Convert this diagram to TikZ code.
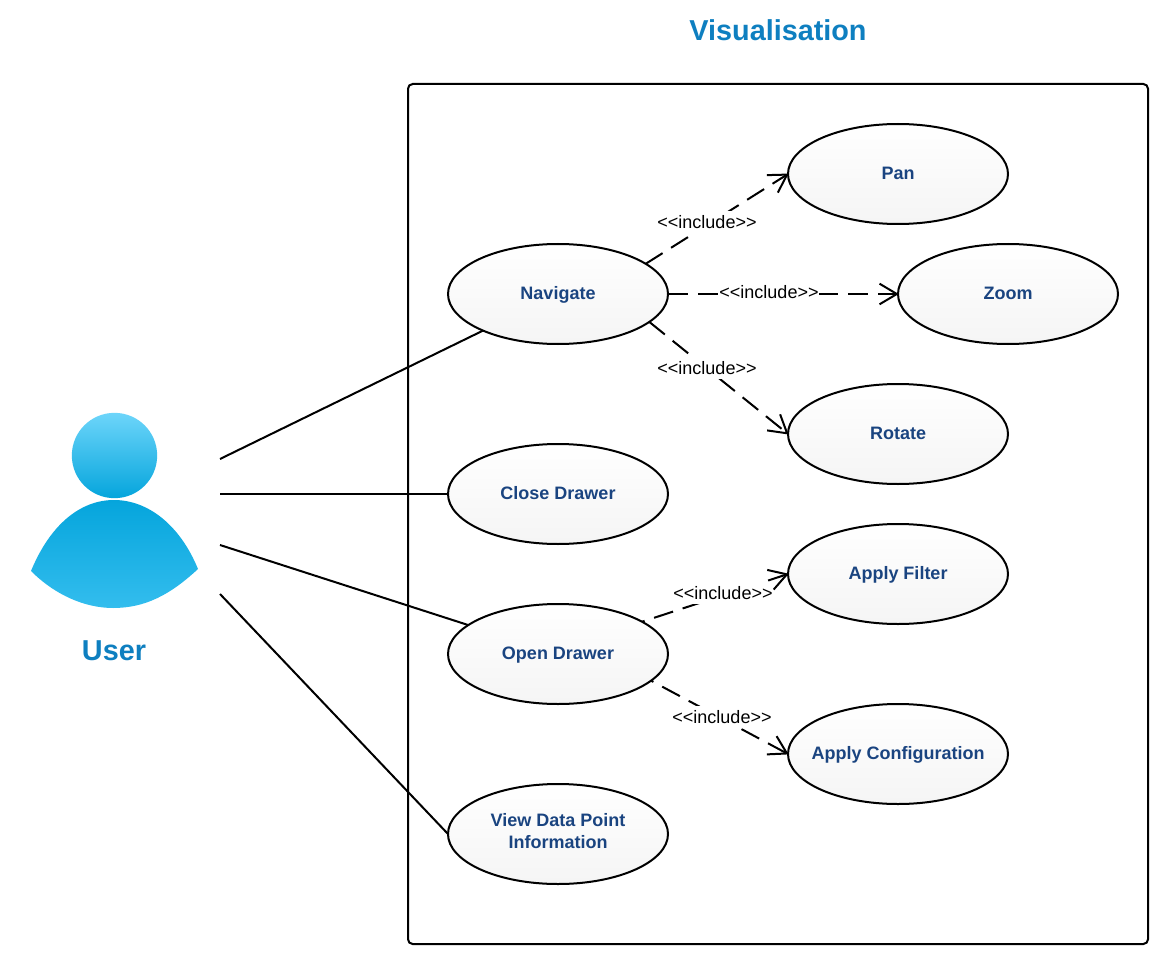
\documentclass[tikz,border=0pt]{standalone}
\usepackage{fontspec}
\setmainfont{Liberation Sans}
\usetikzlibrary{shapes.geometric,arrows.meta}
\definecolor{usecasetext}{HTML}{1A4480}
\definecolor{titleblue}{HTML}{0E7FC0}
\definecolor{actorA}{HTML}{6DD5FA}
\definecolor{actorB}{HTML}{05A5DC}
\definecolor{actorC}{HTML}{33BDEE}
\tikzset{
  usecase/.style={ellipse,draw=black,line width=1.5pt,minimum width=165pt,minimum height=75pt,inner sep=0pt,outer sep=0pt,
    top color=white,bottom color=black!4,text=usecasetext,font=\bfseries\fontsize{13.5}{16.5}\selectfont,align=center,
    text height=11.5pt,text depth=2.8pt},
  assoc/.style={draw=black,line width=1.5pt},
  incl/.style={draw=black,line width=1.5pt,dash pattern=on 15pt off 7.5pt,shorten >=-0.6pt,
    -{Straight Barb[length=13pt,width=15.5pt,line width=1.5pt]}},
  inclshift/.style={incl,dash phase=13pt},
  incllabel/.style={fill=white,inner sep=0pt,text=black,font=\fontsize{13.5}{15}\selectfont,text height=13pt,text depth=3pt},
  heading/.style={text=titleblue,font=\bfseries\fontsize{21.6}{25}\selectfont,inner sep=0pt},
}
\begin{document}
\begin{tikzpicture}[x=0.75pt,y=-0.75pt]
\useasboundingbox (0,0) rectangle (1166,966);
\node[heading] (title) at (778,30) {Visualisation};
\node[draw=black,line width=1.5pt,rounded corners=3.5pt,minimum width=555pt,minimum height=645pt,inner sep=0pt,outer sep=0pt] (system) at (778,514) {};
% actor
\node[circle,minimum size=64pt,inner sep=0pt,top color=actorA,bottom color=actorB] (head) at (114.5,455.5) {};
\shade[top color=actorB,bottom color=actorC]
  (31,571) .. controls (50,525) and (80,500) .. (114,500)
  .. controls (148,500) and (180,525) .. (198,569)
  .. controls (170,595) and (145,608) .. (113,608)
  .. controls (85,608) and (55,595) .. (31,571) -- cycle;
\node[heading] (user) at (114,650.5) {User};
\coordinate (a1) at (220,459);
\coordinate (a2) at (220,494);
\coordinate (a3) at (220,545);
\coordinate (a4) at (220,594);
% use cases
\node[usecase] (nav) at (558,294) {Navigate};
\node[usecase] (pan) at (898,174) {Pan};
\node[usecase] (zoom) at (1008,294) {Zoom};
\node[usecase] (rotate) at (898,434) {Rotate};
\node[usecase] (close) at (558,494) {Close Drawer};
\node[usecase] (filter) at (898,574) {Apply Filter};
\node[usecase] (open) at (558,654) {Open Drawer};
\node[usecase] (config) at (898,754) {\makebox[0pt]{Apply Configuration}};
\node[usecase,text height=26pt,text depth=3.8pt] (view) at (558,834) {\makebox[0pt]{View Data Point}\\\makebox[0pt]{Information}};
% associations
\draw[assoc] (a1) -- (nav);
\draw[assoc] (a2) -- (close);
\draw[assoc] (a3) -- (open);
\draw[assoc] (a4) -- (view.west);
% includes
\draw[incl] (nav.19.6) -- (pan.west);
\draw[incl] (nav.east) -- (zoom.west);
\draw[incl] (nav.-17.9) -- (rotate.west);
\draw[inclshift] (open.21.8) -- (filter.west);
\draw[inclshift] (open.-16.2) -- (config.west);
\node[incllabel] (l1) at (707,222) {<{}<include>{}>};
\node[incllabel] (l2) at (769,292) {<{}<include>{}>};
\node[incllabel] (l3) at (707,368) {<{}<include>{}>};
\node[incllabel] (l4) at (723,593) {<{}<include>{}>};
\node[incllabel] (l5) at (722,717) {<{}<include>{}>};
\end{tikzpicture}
\end{document}
